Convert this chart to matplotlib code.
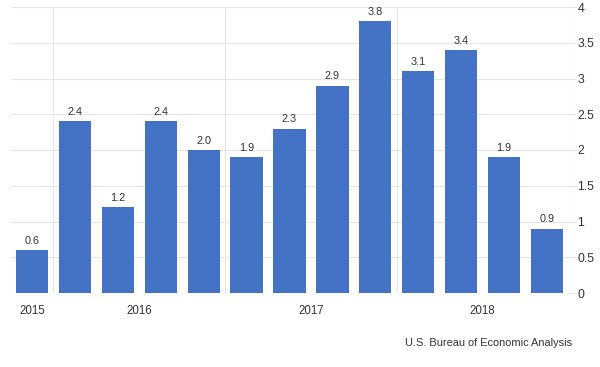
import matplotlib
matplotlib.use("Agg")
import matplotlib.pyplot as plt
import numpy as np

plt.rcParams['font.family'] = ['Liberation Sans', 'DejaVu Sans']

values = [0.6, 2.4, 1.2, 2.4, 2.0, 1.9, 2.3, 2.9, 3.8, 3.1, 3.4, 1.9, 0.9]
year_labels = ["2015", "2016", "2017", "2018"]
year_positions = [0, 2.5, 6.5, 10.5]
y_ticks = [0, 0.5, 1, 1.5, 2, 2.5, 3, 3.5, 4]
y_tick_labels = ["0", "0.5", "1", "1.5", "2", "2.5", "3", "3.5", "4"]
source = "U.S. Bureau of Economic Analysis"

W, H = 600, 367
fig = plt.figure(figsize=(6, 3.67), dpi=100)
ax = fig.add_axes([10.5 / W, (H - 293) / H, (568.5 - 10.5) / W, (293 - 7) / H])

x = np.arange(len(values))
bars = ax.bar(x, values, width=0.75, color="#4472C4", zorder=3)
ax.bar_label(bars, labels=[f"{v:.1f}" for v in values], padding=3,
             fontsize=7.8, color="#333333")

ax.set_xlim(-0.5, len(values) - 0.5)
ax.set_ylim(0, 4)

for s in ax.spines.values():
    s.set_visible(False)

# horizontal grid
ax.yaxis.tick_right()
ax.set_yticks(y_ticks)
ax.set_yticklabels(y_tick_labels)
ax.tick_params(axis="y", length=5, width=0.8, color="#e3e3e3", pad=1.5,
               labelsize=8.8, labelcolor="#333333")
ax.grid(axis="y", color="#e6e6e6", linewidth=0.8, zorder=0)

# vertical grid lines every two bars
ax.set_xticks(np.arange(0.5, len(values), 2), minor=True)
ax.grid(axis="x", which="minor", color="#e6e6e6", linewidth=0.8, zorder=0)
ax.tick_params(axis="x", which="minor", length=0)

ax.set_xticks(year_positions)
ax.set_xticklabels(year_labels)
ax.tick_params(axis="x", which="major", length=0, pad=8.5, labelsize=8.3,
               labelcolor="#333333")

fig.text(572 / W, 1 - 343 / H, source, ha="right", va="center",
         fontsize=7.9, color="#333333")

fig.savefig("out.png", dpi=100, facecolor="white")
